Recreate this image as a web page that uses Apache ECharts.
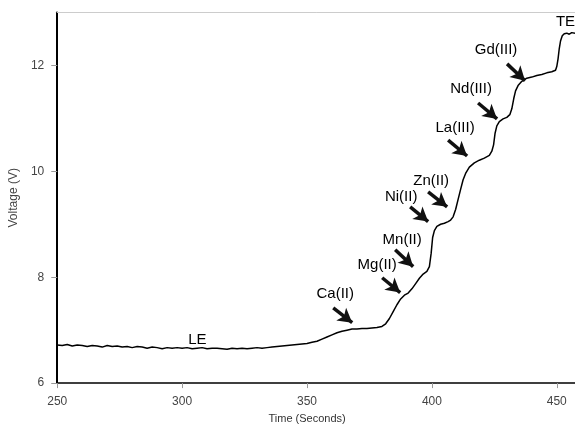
<!DOCTYPE html>
<html>
<head>
<meta charset="utf-8">
<script src="https://cdn.jsdelivr.net/npm/echarts@6/dist/echarts.min.js"></script>
<style>html,body{margin:0;padding:0;background:#fff;}#c{width:575px;height:429px;}</style>
</head>
<body>
<div id="c"></div>
<script>
// Time (s) and voltage (V) of the isotachophoresis trace
var times = [250,252,254,256,258,260,262,264,266,268,270,272,274,276,278,280,282,284,286,288,290,292,294,296,298,300,302,304,306,308,310,312,314,316,318,320,322,324,326,328,330,332,334,336,338,340,342,344,346,348,350,352,354,356,358,360,362,364,366,368,370,372,374,376,378,380,381.5,383,384.5,386,387.5,389,390.5,392,393.5,395,396.5,398,399,399.7,400.3,401,402,403.5,405,406.5,407.5,408.5,409.5,410.5,411.5,412.5,413.5,415,417,419,421,423,424,424.7,425.3,426,427,428.5,430,431.2,432,432.8,433.5,434.5,436,438,440,442,444,446,448,449.5,450,450.5,451,451.5,452.2,453,454,455,456,457.3];
var volts = [6.72,6.71,6.73,6.70,6.72,6.71,6.69,6.71,6.70,6.68,6.71,6.69,6.70,6.68,6.69,6.67,6.69,6.68,6.66,6.68,6.67,6.65,6.67,6.66,6.67,6.66,6.67,6.65,6.66,6.67,6.65,6.66,6.66,6.65,6.64,6.66,6.65,6.66,6.65,6.66,6.67,6.66,6.67,6.68,6.69,6.70,6.71,6.72,6.73,6.74,6.75,6.77,6.79,6.83,6.87,6.91,6.95,6.98,7.00,7.02,7.02,7.03,7.03,7.04,7.05,7.07,7.12,7.22,7.35,7.48,7.59,7.66,7.70,7.78,7.88,7.98,8.06,8.11,8.20,8.45,8.75,8.88,8.96,9.00,9.02,9.05,9.08,9.14,9.28,9.47,9.66,9.84,9.96,10.08,10.16,10.21,10.25,10.30,10.38,10.50,10.72,10.86,10.94,10.99,11.02,11.07,11.18,11.38,11.52,11.62,11.70,11.76,11.78,11.81,11.83,11.86,11.88,11.91,11.98,12.12,12.32,12.46,12.56,12.60,12.61,12.59,12.62,12.61];

// Zone labels: [time, voltage, text]
var labelNames = ['Ca(II)','Mg(II)','Mn(II)','Ni(II)','Zn(II)','La(III)','Nd(III)','Gd(III)','LE','TE'];
var labelX = [361.3,378.1,388.1,387.7,399.7,409.3,415.7,425.7,306.1,453.5];
var labelY = [7.69,8.24,8.71,9.52,9.82,10.82,11.56,12.29,6.82,12.82];

// Arrows: start (x1,y1) -> end (x2,y2) in data coords
var arrowX1 = [360.5,380.1,385.3,391.3,398.5,406.5,418.5,430.1];
var arrowY1 = [7.42,7.99,8.52,9.33,9.61,10.59,11.29,12.03];
var arrowX2 = [368.1,387.3,392.5,398.5,406.1,414.1,426.1,437.3];
var arrowY2 = [7.14,7.71,8.20,9.05,9.33,10.29,10.99,11.71];

var xTicks = [250,300,350,400,450];
var yTicks = [6,8,10,12];

var curve = times.map(function(t,i){return [t, volts[i]];});
var labels = labelNames.map(function(n,i){return {value:[labelX[i],labelY[i]], name:n};});
var arrows = arrowX1.map(function(x,i){return [{coord:[x,arrowY1[i]]},{coord:[arrowX2[i],arrowY2[i]]}];});

var chart = echarts.init(document.getElementById('c'));
chart.setOption({
  animation:false,
  backgroundColor:'#fff',
  grid:{left:57,right:0,top:12.5,bottom:45.5,containLabel:false},
  xAxis:[{
    type:'value',min:250,max:457.3,interval:50,
    name:'Time (Seconds)',nameLocation:'middle',nameGap:27,
    nameTextStyle:{fontFamily:'Liberation Sans',fontSize:11,color:'#333',padding:[0,18,0,0]},
    axisLine:{lineStyle:{color:'#000',width:1.5}},
    axisTick:{show:true,length:5,lineStyle:{color:'#999'},customValues:xTicks},
    axisLabel:{fontFamily:'Liberation Sans',fontSize:12,color:'#444',margin:13,customValues:xTicks},
    splitLine:{show:false}
  },{
    type:'value',position:'top',min:250,max:457.3,
    axisLine:{show:true,lineStyle:{color:'#ccc',width:1}},
    axisTick:{show:false},axisLabel:{show:false},splitLine:{show:false}
  }],
  yAxis:{
    type:'value',min:6,max:13,interval:2,
    name:'Voltage (V)',nameLocation:'middle',nameGap:37,
    nameTextStyle:{fontFamily:'Liberation Sans',fontSize:12,color:'#444'},
    axisLine:{show:true,lineStyle:{color:'#000',width:2}},
    axisTick:{show:true,length:6,lineStyle:{color:'#999'},customValues:yTicks},
    axisLabel:{fontFamily:'Liberation Sans',fontSize:12,color:'#444',margin:13,customValues:yTicks},
    splitLine:{show:false}
  },
  series:[{
    type:'line',data:curve,symbol:'none',smooth:false,
    lineStyle:{color:'#000',width:1.5},
    silent:true,
    markLine:{
      silent:true,symbol:['none','arrow'],symbolSize:[12,14],
      label:{show:false},
      lineStyle:{color:'#111',width:3.5,type:'solid'},
      emphasis:{disabled:true},
      data:arrows
    }
  },{
    type:'scatter',data:labels,symbolSize:1,itemStyle:{color:'rgba(0,0,0,0)'},silent:true,
    label:{show:true,position:'inside',formatter:function(p){return p.name;},
      fontFamily:'Liberation Sans',fontSize:15,color:'#000',opacity:1}
  }]
});
</script>
</body>
</html>
